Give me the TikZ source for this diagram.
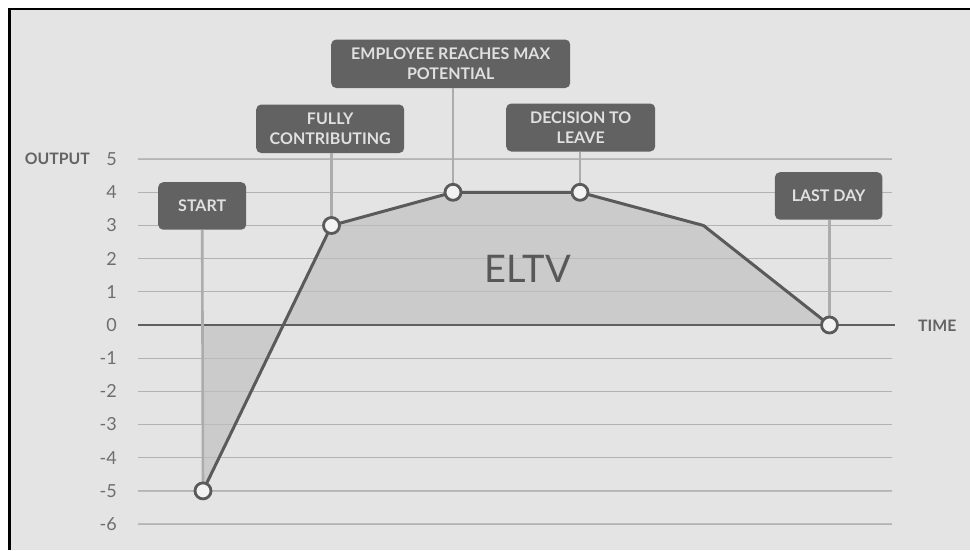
\documentclass[tikz,border=0pt]{standalone}
\usepackage{fontspec}
\setmainfont{Lato}
\definecolor{bg}{HTML}{E4E4E4}
\definecolor{boxc}{HTML}{626262}
\definecolor{boxtxt}{HTML}{E0E0E0}
\definecolor{gridc}{HTML}{BDBDBD}
\definecolor{axisc}{HTML}{5F5F5F}
\definecolor{curvec}{HTML}{5A5A5A}
\definecolor{areac}{HTML}{CBCBCB}
\definecolor{stemc}{HTML}{ACACAC}
\definecolor{tickc}{HTML}{6E6E6E}
\definecolor{ptfill}{HTML}{F2F2F2}
\tikzset{
  lbl/.style={fill=boxc, rounded corners=5pt, text=boxtxt, align=center,
    font=\fontsize{16}{19.3}\selectfont\bfseries, inner sep=0pt, anchor=north west},
  stem/.style={draw=stemc, line width=2.6pt},
  gridline/.style={draw=gridc, line width=1.3pt},
  curve/.style={draw=curvec, line width=3pt, line join=round},
  pt/.style={circle, draw=curvec, fill=ptfill, line width=2.8pt, minimum size=16pt, inner sep=0pt},
  ticklbl/.style={text=tickc, anchor=east, font=\fontsize{18}{20}\selectfont, inner sep=0pt},
  axlbl/.style={text=tickc!90!black, font=\fontsize{15.8}{17}\selectfont\bfseries, inner sep=0pt}
}
\begin{document}
\begin{tikzpicture}[x=1pt,y=-1pt]
\useasboundingbox (0,0) rectangle (970,550);
\fill[white] (0,0) rectangle (970,550);
\fill[bg] (10,9) rectangle (970,550);
\draw[black, line width=2.4pt] (9.5,550) -- (9.5,9) -- (970,9);
% grid
\foreach \v in {5,4,3,2,1,-1,-2,-3,-4,-5,-6}{
  \pgfmathsetmacro{\yy}{325-33.18*\v}
  \draw[gridline] (138,\yy) -- (892,\yy);
  \node[ticklbl] (t\v) at (117,\yy) {\v};
}
\node[ticklbl] (t0) at (117,325) {0};
% points
\coordinate (S) at (203,490.9);
\coordinate (F) at (331.5,225.5);
\coordinate (E) at (453,192.3);
\coordinate (D) at (580,192.3);
\coordinate (C) at (703.5,225.5);
\coordinate (L) at (829.5,325);
\coordinate (S0) at (203,325);
% area
\fill[areac] (S0) -- (S) -- (F) -- (E) -- (D) -- (C) -- (L) -- cycle;
% grid over area
\foreach \v in {5,4,3,2,1,-1,-2,-3,-4,-5,-6}{
  \pgfmathsetmacro{\yy}{325-33.18*\v}
  \draw[draw=gridc!90!black, line width=1.1pt, opacity=0.5] (138,\yy) -- (892,\yy);
}
% axis
\coordinate (axL) at (138,325);
\coordinate (axR) at (895,325);
\draw[draw=axisc, line width=2.6pt] (axL) -- (axR);
% labels
\node[axlbl, anchor=east] (output) at (90,158.5) {OUTPUT};
\node[axlbl, anchor=west] (time) at (918,326) {TIME};
\node[text=tickc!80!black, font=\fontsize{38}{40}\selectfont, inner sep=0pt] (eltv) at (528,269) {ELTV};
% boxes
\node[lbl, minimum width=88pt, minimum height=47.5pt] (bS) at (158,182) {START};
\node[lbl, minimum width=148pt, minimum height=48.5pt] (bF) at (256,104.3) {FULLY\\CONTRIBUTING};
\node[lbl, minimum width=239pt, minimum height=48.5pt] (bE) at (331,39.3) {EMPLOYEE REACHES MAX\\POTENTIAL};
\node[lbl, minimum width=149pt, minimum height=48pt] (bD) at (506,103.3) {DECISION TO\\LEAVE};
\node[lbl, minimum width=107.5pt, minimum height=47.5pt] (bL) at (774.7,172) {LAST DAY};
% stems
\draw[stem] (bS.south) -- (S);
\draw[stem] (F |- bF.south) -- (F);
\draw[stem] (E |- bE.south) -- (E);
\draw[stem] (D |- bD.south) -- (D);
\draw[stem] (L |- bL.south) -- (L);
% curve
\draw[curve] (S) -- (F) -- (E) -- (D) -- (C) -- (L);
\node[pt] (pS) at (S) {};
\node[pt] (pF) at (F) {};
\node[pt] (pE) at (E) {};
\node[pt] (pD) at (D) {};
\node[pt] (pL) at (L) {};
\end{tikzpicture}
\end{document}
